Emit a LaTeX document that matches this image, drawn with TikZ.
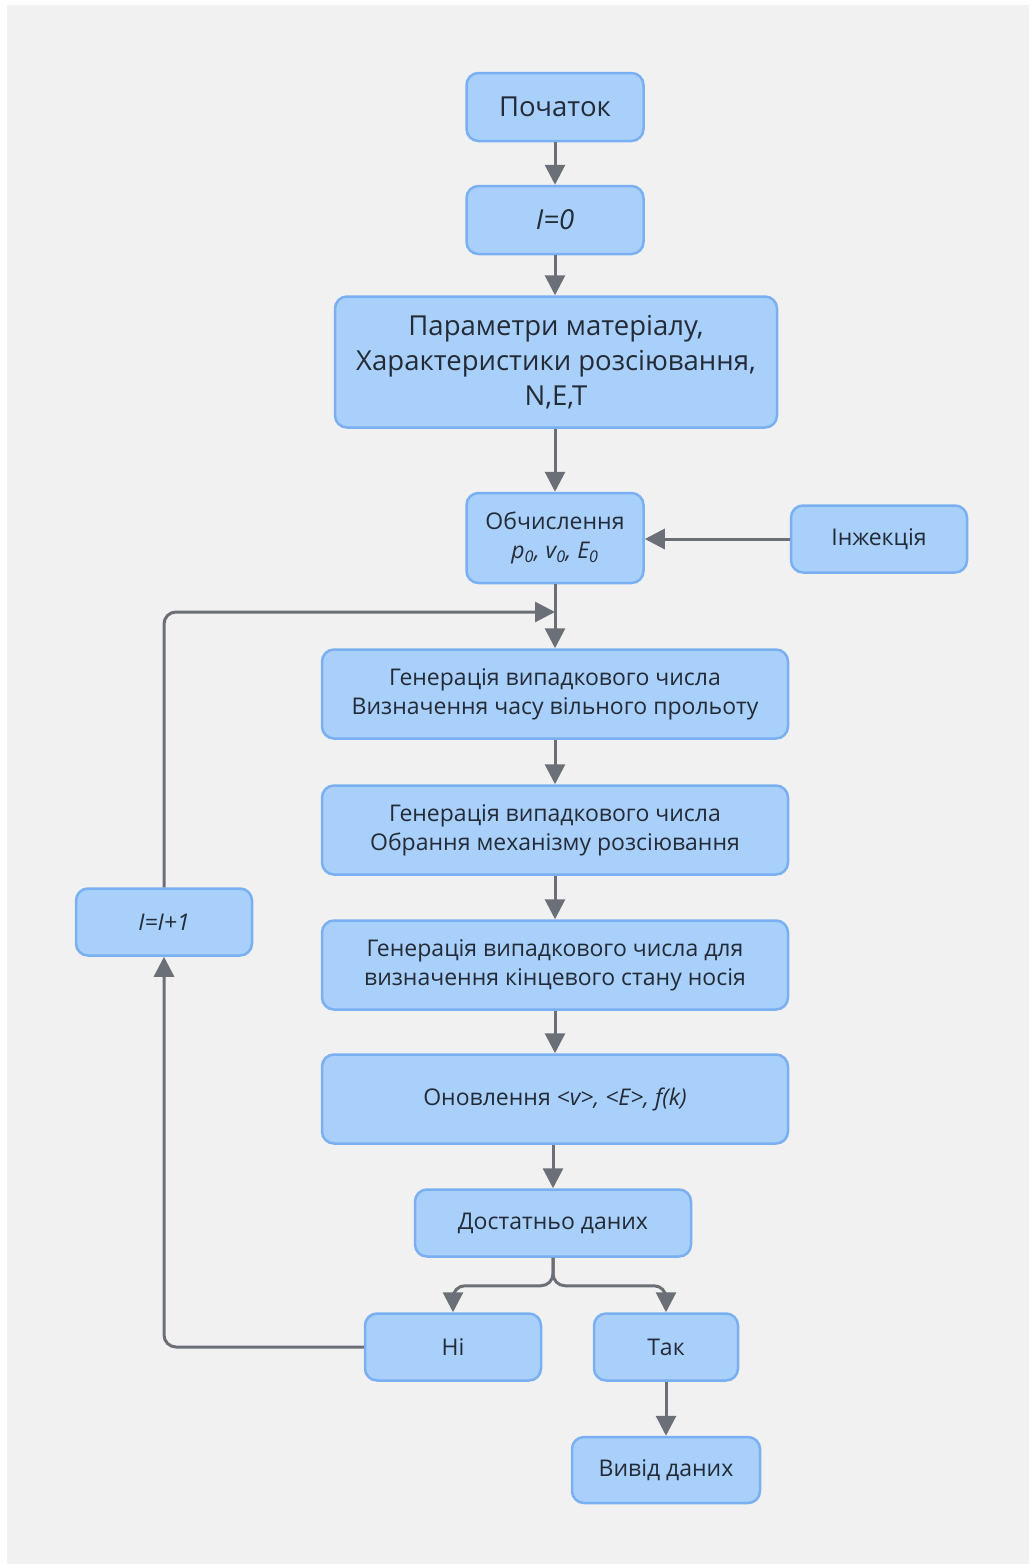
\documentclass[tikz,border=0pt]{standalone}
\usepackage{fontspec}
\setmainfont{Open Sans}
\usetikzlibrary{arrows.meta}

\definecolor{boxfill}{HTML}{A9CFFB}
\definecolor{boxline}{HTML}{7AB0F2}
\definecolor{arrowgray}{HTML}{6B7078}
\definecolor{bggray}{HTML}{F1F1F1}
\definecolor{textdark}{HTML}{222B36}

\tikzset{
  blk/.style={draw=boxline, fill=boxfill, line width=2.5pt, rounded corners=12pt,
    align=center, text=textdark, inner sep=0pt},
  bigtxt/.style={font=\fontsize{27.5}{35}\selectfont},
  smalltxt/.style={font=\fontsize{23}{29}\selectfont},
  flow/.style={draw=arrowgray, line width=3pt, rounded corners=12pt,
    -{Triangle[length=20pt,width=20pt]}},
}

\begin{document}
\begin{tikzpicture}[x=1pt,y=-1pt]
% background
\fill[white] (0,0) rectangle (1029,1564);
\fill[bggray] (7,5) rectangle (1029,1564);
\useasboundingbox (0,0) rectangle (1029,1564);

% main column
\node[blk, bigtxt, minimum width=177pt, minimum height=68pt] (start) at (555,107) {Початок};
\node[blk, bigtxt, minimum width=177pt, minimum height=68pt] (zero) at (555,220) {\textit{I=0}};
\node[blk, bigtxt, minimum width=442pt, minimum height=131pt] (params) at (556,362)
  {Параметри матеріалу,\\Характеристики розсіювання,\\N,E,T};
\node[blk, smalltxt, minimum width=177pt, minimum height=90pt] (calc) at (555,538)
  {Обчислення\\\textit{p\textsubscript{0}, v\textsubscript{0}, E\textsubscript{0}}};
\node[blk, smalltxt, minimum width=176pt, minimum height=67pt] (inject) at (879,539) {Інжекція};
\node[blk, smalltxt, minimum width=466pt, minimum height=89pt] (gen1) at (555,694)
  {Генерація випадкового числа\\Визначення часу вільного прольоту};
\node[blk, smalltxt, minimum width=466pt, minimum height=89pt] (gen2) at (555,830)
  {Генерація випадкового числа\\Обрання механізму розсіювання};
\node[blk, smalltxt, minimum width=466pt, minimum height=89pt] (gen3) at (555,965)
  {Генерація випадкового числа для\\визначення кінцевого стану носія};
\node[blk, smalltxt, minimum width=466pt, minimum height=89pt] (update) at (555,1099)
  {Оновлення \textit{<v>, <E>, f(k)}};
\node[blk, smalltxt, minimum width=276pt, minimum height=67pt] (enough) at (553,1223) {Достатньо даних};
\node[blk, smalltxt, minimum width=176pt, minimum height=67pt] (no) at (453,1347) {Ні};
\node[blk, smalltxt, minimum width=144pt, minimum height=67pt] (yes) at (666,1347) {Так};
\node[blk, smalltxt, minimum width=188pt, minimum height=66pt] (output) at (666,1470) {Вивід даних};
\node[blk, smalltxt, minimum width=176pt, minimum height=67pt] (incr) at (164,922) {\textit{I=I+1}};

\coordinate (join) at (555,612);

% connectors
\draw[flow] (start) -- (zero);
\draw[flow] (zero.south) -- (params.north -| zero);
\draw[flow] (params.south -| calc) -- (calc.north);
\draw[flow] (inject.west) -- (inject.west -| calc.east);
\draw[flow] (calc) -- (gen1);
\draw[flow] (gen1) -- (gen2);
\draw[flow] (gen2) -- (gen3);
\draw[flow] (gen3) -- (update);
\draw[flow] (update.south -| enough) -- (enough.north);
\draw[flow] (enough.south) -- ++(0,28) -| (no.north);
\draw[flow] (enough.south) -- ++(0,28) -| (yes.north);
\draw[flow] (yes) -- (output);
\draw[flow] (no.west) -| (incr.south);
\draw[flow] (incr.north) |- (join);
\end{tikzpicture}
\end{document}
